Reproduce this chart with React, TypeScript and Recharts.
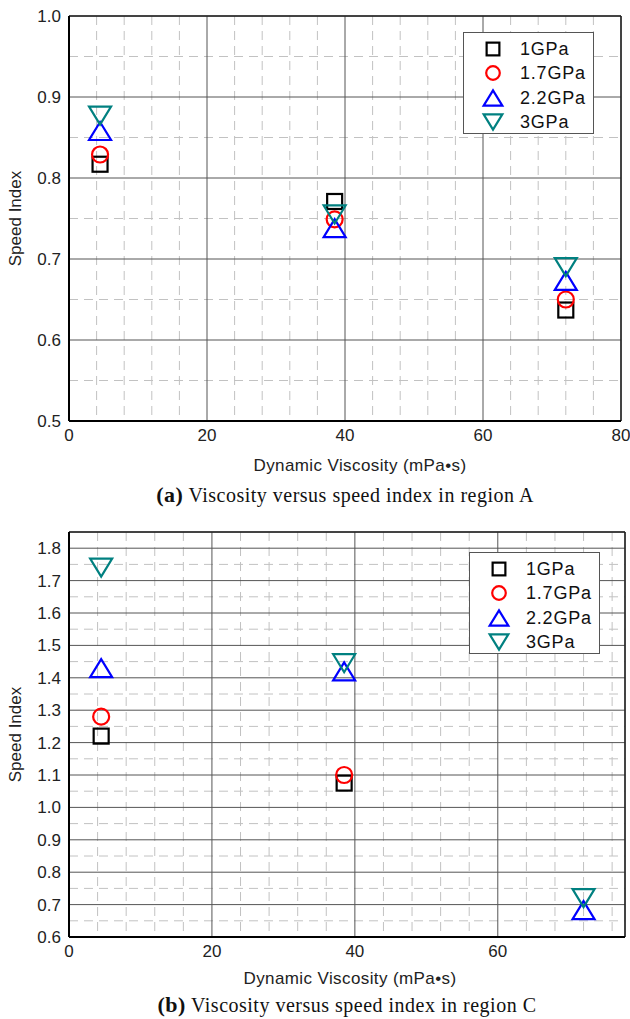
import React from 'react';
import { ScatterChart, Scatter, XAxis, YAxis, CartesianGrid, Legend, ReferenceLine } from 'recharts';

// series (legend order)
const seriesNames = ['1GPa', '1.7GPa', '2.2GPa', '3GPa'];
const seriesColors = ['#000000', '#ff0000', '#0000ff', '#008080'];
const seriesShapes = ['square', 'circle', 'triangle', 'triangleDown'];

// (a) region A
const viscosityA = [4.5, 38.5, 72];
const speedA_1GPa = [0.817, 0.771, 0.637];
const speedA_17GPa = [0.829, 0.749, 0.65];
const speedA_22GPa = [0.858, 0.738, 0.673];
const speedA_3GPa = [0.877, 0.755, 0.69];

// (b) region C
const viscosityC = [4.5, 38.5, 72];
const speedC_1GPa = [1.22, 1.075, null];
const speedC_17GPa = [1.28, 1.1, null];
const speedC_22GPa = [1.43, 1.42, 0.683];
const speedC_3GPa = [1.74, 1.445, 0.72];

// axes
const xTicksA = [0, 20, 40, 60, 80];
const yTicksA = [0.5, 0.6, 0.7, 0.8, 0.9, 1.0];
const xMinorA = [4, 8, 12, 16, 24, 28, 32, 36, 44, 48, 52, 56, 64, 68, 72, 76];
const yMinorA = [0.55, 0.65, 0.75, 0.85, 0.95];

const xTicksC = [0, 20, 40, 60];
const yTicksC = [0.6, 0.7, 0.8, 0.9, 1.0, 1.1, 1.2, 1.3, 1.4, 1.5, 1.6, 1.7, 1.8];
const xMinorC = [4, 8, 12, 16, 24, 28, 32, 36, 44, 48, 52, 56, 64, 68, 72, 76];
const yMinorC = [0.65, 0.75, 0.85, 0.95, 1.05, 1.15, 1.25, 1.35, 1.45, 1.55, 1.65, 1.75];

const sans = '"Liberation Sans", Arial, sans-serif';
const serif = '"Liberation Serif", "Times New Roman", serif';

function toRows(xs: number[], ys: (number | null)[]) {
  return xs.map((x, i) => ({ x, y: ys[i] })).filter((r) => r.y !== null);
}

function Marker({ kind, cx, cy, color, s = 1 }: { kind: string; cx: number; cy: number; color: string; s?: number }) {
  const sw = 2.2;
  if (kind === 'square') {
    return <rect x={cx - 7.5 * s} y={cy - 7.5 * s} width={15 * s} height={15 * s} fill="none" stroke={color} strokeWidth={sw} />;
  }
  if (kind === 'circle') {
    return <circle cx={cx} cy={cy} r={8 * s} fill="none" stroke={color} strokeWidth={sw} />;
  }
  const w = 11 * s;
  const h = 9 * s;
  const pts =
    kind === 'triangle'
      ? `${cx - w},${cy + h} ${cx + w},${cy + h} ${cx},${cy - h}`
      : `${cx - w},${cy - h} ${cx + w},${cy - h} ${cx},${cy + h}`;
  return <polygon points={pts} fill="none" stroke={color} strokeWidth={sw} strokeLinejoin="miter" />;
}

function LegendBox() {
  return (
    <div style={{ width: 129, height: 100, border: '1px solid #555', background: '#fff', position: 'relative' }}>
      {seriesNames.map((n, i) => (
        <div key={n} style={{ position: 'absolute', left: 0, top: 4 + i * 24.4, height: 24, width: 129 }}>
          <svg width={40} height={24} style={{ position: 'absolute', left: 9, top: 0 }}>
            <Marker kind={seriesShapes[i]} cx={20} cy={12} color={seriesColors[i]} s={0.85} />
          </svg>
          <span
            style={{
              position: 'absolute',
              left: 56,
              top: 1,
              fontFamily: sans,
              fontSize: 18,
              letterSpacing: 0.8,
              color: '#111',
              lineHeight: '22px',
            }}
          >
            {n}
          </span>
        </div>
      ))}
    </div>
  );
}

interface PanelProps {
  height: number;
  margin: { top: number; right: number; left: number; bottom: number };
  xAxisHeight: number;
  xDomain: [number, number];
  yDomain: [number, number];
  xTicks: number[];
  yTicks: number[];
  xMinor: number[];
  yMinor: number[];
  data: { x: number; y: number | null }[][];
  legendTop: number;
  legendLeft: number;
}

function Panel(p: PanelProps) {
  const tick = { fill: '#222', fontSize: 17, fontFamily: sans };
  return (
    <ScatterChart width={630} height={p.height} margin={p.margin}>
      <CartesianGrid horizontalValues={p.yMinor} verticalValues={p.xMinor} stroke="#c2c2c2" strokeDasharray="9 6" />
      <CartesianGrid stroke="#555" />
      <XAxis
        type="number"
        dataKey="x"
        domain={p.xDomain}
        ticks={p.xTicks}
        allowDataOverflow
        height={p.xAxisHeight}
        tickLine={false}
        axisLine={{ stroke: '#000', strokeWidth: 2 }}
        tick={tick}
      />
      <YAxis
        type="number"
        dataKey="y"
        domain={p.yDomain}
        ticks={p.yTicks}
        allowDataOverflow
        width={69}
        tickLine={false}
        axisLine={{ stroke: '#000', strokeWidth: 2 }}
        tick={tick}
        tickFormatter={(v: number) => v.toFixed(1)}
        label={{
          value: 'Speed Index',
          angle: -90,
          position: 'insideLeft',
          offset: 15,
          style: { textAnchor: 'middle', fontFamily: sans, fontSize: 17, fill: '#222' },
        }}
      />
      <ReferenceLine y={p.yDomain[1]} stroke="#222" strokeWidth={1.5} />
      <ReferenceLine x={p.xDomain[1]} stroke="#222" strokeWidth={1.5} />
      {p.data.map((rows, i) => (
        <Scatter
          key={seriesNames[i]}
          name={seriesNames[i]}
          data={rows}
          fill={seriesColors[i]}
          isAnimationActive={false}
          shape={(props: any) => <Marker kind={seriesShapes[i]} cx={props.cx} cy={props.cy} color={seriesColors[i]} />}
        />
      ))}
      <Legend
        layout="vertical"
        align="center"
        verticalAlign="middle"
        content={() => <LegendBox />}
        wrapperStyle={{ left: p.legendLeft, top: p.legendTop, width: 131, height: 102, margin: 0 }}
      />
    </ScatterChart>
  );
}

const textBase: React.CSSProperties = { position: 'absolute', whiteSpace: 'nowrap', transform: 'translate(-50%, -50%)' };
const titleStyle: React.CSSProperties = { ...textBase, fontFamily: sans, fontSize: 17, letterSpacing: 0.4, color: '#222' };
const captionStyle: React.CSSProperties = { ...textBase, fontFamily: serif, fontSize: 20, letterSpacing: 0.5, color: '#111' };

export default function App() {
  const dataA = [
    toRows(viscosityA, speedA_1GPa),
    toRows(viscosityA, speedA_17GPa),
    toRows(viscosityA, speedA_22GPa),
    toRows(viscosityA, speedA_3GPa),
  ];
  const dataC = [
    toRows(viscosityC, speedC_1GPa),
    toRows(viscosityC, speedC_17GPa),
    toRows(viscosityC, speedC_22GPa),
    toRows(viscosityC, speedC_3GPa),
  ];
  return (
    <div style={{ position: 'absolute', left: 0, top: 0, width: 630, height: 1019, background: '#fff' }}>
      <div style={{ position: 'absolute', left: 0, top: 0 }}>
        <Panel
          height={450}
          margin={{ top: 16, right: 9, left: 0, bottom: 0 }}
          xAxisHeight={29}
          xDomain={[0, 80]}
          yDomain={[0.5, 1.0]}
          xTicks={xTicksA}
          yTicks={yTicksA}
          xMinor={xMinorA}
          yMinor={yMinorA}
          data={dataA}
          legendLeft={463}
          legendTop={32}
        />
      </div>
      <div style={{ ...titleStyle, left: 360, top: 466 }}>Dynamic Viscosity (mPa•s)</div>
      <div style={{ ...captionStyle, left: 345, top: 495 }}>
        <b style={{ fontSize: 22 }}>(a)</b> Viscosity versus speed index in region A
      </div>

      <div style={{ position: 'absolute', left: 0, top: 500 }}>
        <Panel
          height={470}
          margin={{ top: 32, right: 5, left: 0, bottom: 0 }}
          xAxisHeight={33}
          xDomain={[0, 77.8]}
          yDomain={[0.6, 1.85]}
          xTicks={xTicksC}
          yTicks={yTicksC}
          xMinor={xMinorC}
          yMinor={yMinorC}
          data={dataC}
          legendLeft={469}
          legendTop={52}
        />
      </div>
      <div style={{ ...titleStyle, left: 350, top: 979 }}>Dynamic Viscosity (mPa•s)</div>
      <div style={{ ...captionStyle, left: 347, top: 1005 }}>
        <b style={{ fontSize: 22 }}>(b)</b> Viscosity versus speed index in region C
      </div>
    </div>
  );
}
